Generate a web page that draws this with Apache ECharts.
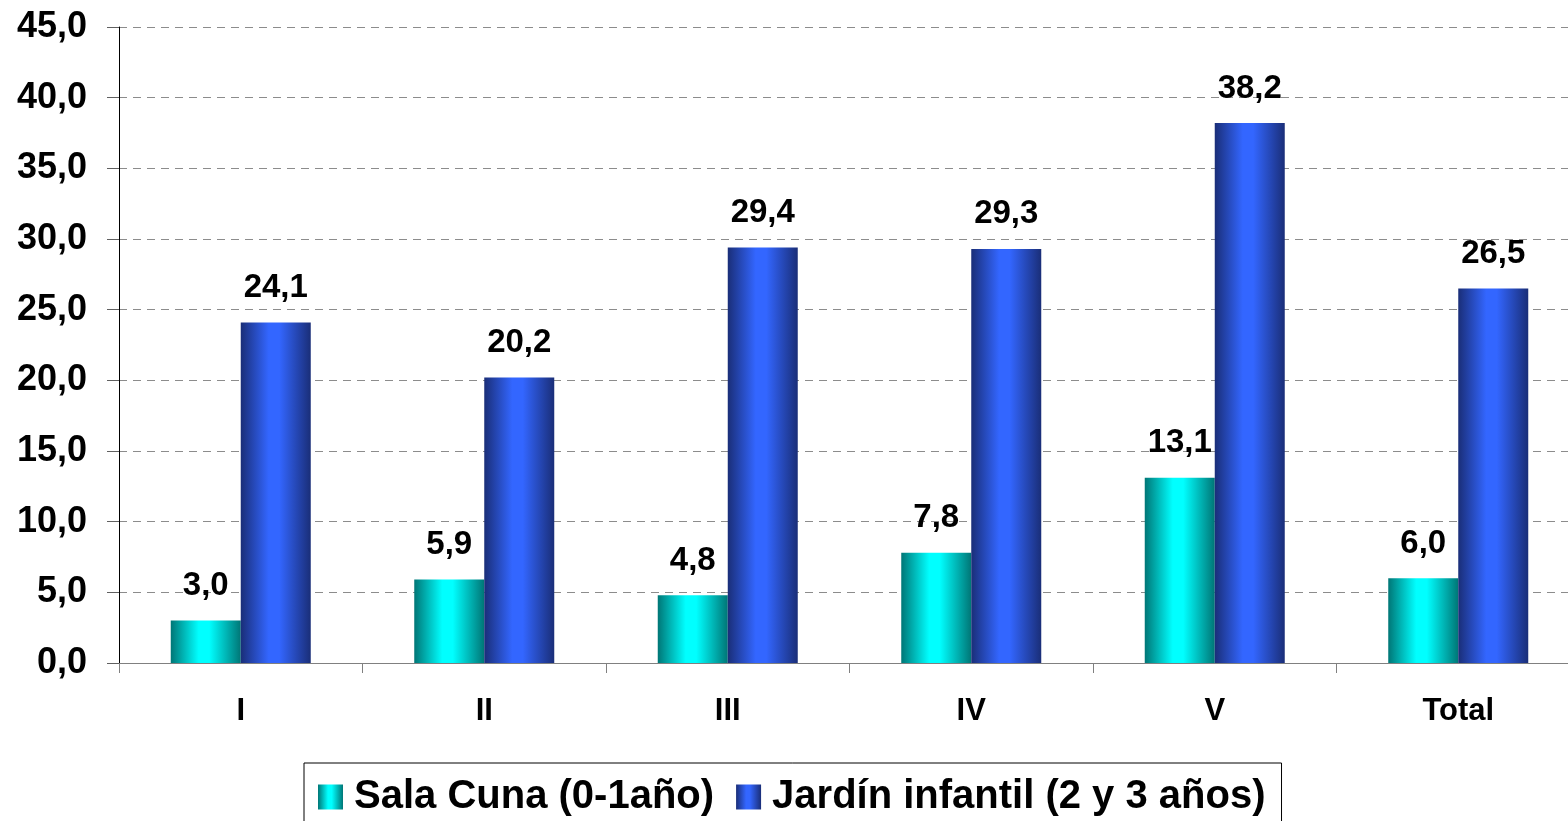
<!DOCTYPE html>
<html>
<head>
<meta charset="utf-8">
<script src="https://cdn.jsdelivr.net/npm/echarts@6/dist/echarts.min.js"></script>
<style>
html,body{margin:0;padding:0;background:#fff;overflow:hidden;}
#chart{width:1580px;height:821px;}
</style>
</head>
<body>
<div id="chart"></div>
<script>
const categories = ['I', 'II', 'III', 'IV', 'V', 'Total'];
const salaCuna = [3.0, 5.9, 4.8, 7.8, 13.1, 6.0];
const jardin = [24.1, 20.2, 29.4, 29.3, 38.2, 26.5];
const seriesNames = ['Sala Cuna (0-1año)', 'Jardín infantil (2 y 3 años)'];

const FONT = '"Liberation Sans", Arial, sans-serif';
const fmt = v => Number(v).toFixed(1).replace('.', ',');

function grad(edge, mid) {
  return new echarts.graphic.LinearGradient(0, 0, 1, 0, [
    {offset: 0, color: edge},
    {offset: 0.4, color: mid},
    {offset: 0.55, color: mid},
    {offset: 1, color: edge}
  ]);
}

const chart = echarts.init(document.getElementById('chart'), null, {renderer: 'canvas'});
chart.setOption({
  animation: false,
  backgroundColor: '#ffffff',
  textStyle: {fontFamily: FONT},
  grid: {left: 119, top: 27, right: 0, height: 636, containLabel: false},
  legend: {
    data: seriesNames,
    left: 304,
    top: 763,
    itemWidth: 25,
    itemHeight: 25,
    itemGap: 22,
    padding: [14, 16, 14, 14],
    borderColor: '#000',
    borderWidth: 1,
    icon: 'rect',
    textStyle: {fontSize: 40, fontWeight: 'bold', color: '#000', fontFamily: FONT, padding: [0, 0, 0, 6]}
  },
  xAxis: {
    type: 'category',
    data: categories,
    axisLine: {lineStyle: {color: '#808080', width: 1}},
    axisTick: {show: true, alignWithLabel: false, length: 10, lineStyle: {color: '#808080'}},
    axisLabel: {fontSize: 31, fontWeight: 'bold', color: '#000', margin: 33, fontFamily: FONT},
    splitLine: {show: false}
  },
  yAxis: {
    type: 'value',
    min: 0, max: 45, interval: 5,
    axisLine: {show: true, lineStyle: {color: '#000', width: 1}},
    axisTick: {show: true, length: 12, lineStyle: {color: '#606060'}},
    axisLabel: {fontSize: 36, fontWeight: 'bold', color: '#000', margin: 32, formatter: fmt, fontFamily: FONT},
    splitLine: {show: true, lineStyle: {color: '#8c8c8c', type: [8, 6], width: 1}}
  },
  series: [
    {
      name: seriesNames[0],
      type: 'bar',
      data: salaCuna,
      barWidth: 70,
      barGap: '0%',
      itemStyle: {color: grad('#007676', '#00ffff')},
      label: {show: true, position: 'top', distance: 18, formatter: p => fmt(p.value),
        fontSize: 33, fontWeight: 'bold', color: '#000', fontFamily: FONT}
    },
    {
      name: seriesNames[1],
      type: 'bar',
      data: jardin,
      barWidth: 70,
      barGap: '0%',
      itemStyle: {color: grad('#1a2e78', '#3366ff')},
      label: {show: true, position: 'top', distance: 18, formatter: p => fmt(p.value),
        fontSize: 33, fontWeight: 'bold', color: '#000', fontFamily: FONT}
    }
  ]
});
</script>
</body>
</html>
